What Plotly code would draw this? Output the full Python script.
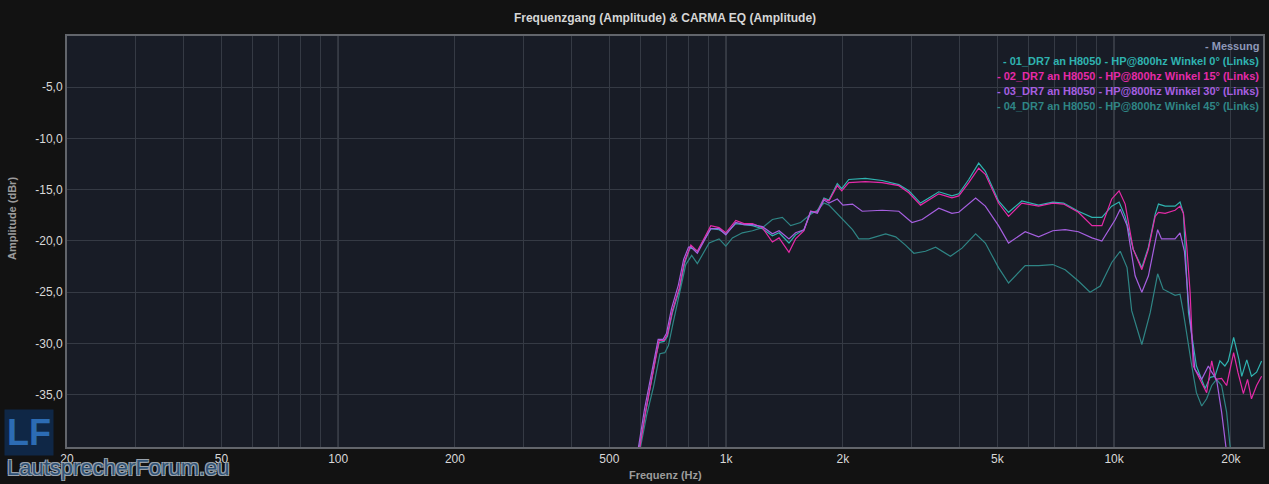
import math
import plotly.graph_objects as go

title = 'Frequenzgang (Amplitude) & CARMA EQ (Amplitude)'

names = ['Messung',
         '01_DR7 an H8050 - HP@800hz Winkel 0° (Links)',
         '02_DR7 an H8050 - HP@800hz Winkel 15° (Links)',
         '03_DR7 an H8050 - HP@800hz Winkel 30° (Links)',
         '04_DR7 an H8050 - HP@800hz Winkel 45° (Links)']
colors = ['#8e98b8', '#2fb3b0', '#e52aa8', '#a65fe0', '#2f8585']

# 0 deg
freq_0 = [588, 598, 619, 644, 660, 672, 692, 706, 727, 757, 781, 803, 811, 843, 877, 913, 959, 998, 1059, 1112,
          1169, 1240, 1316, 1369, 1452, 1510, 1587, 1652, 1718, 1787, 1841, 1934, 1986, 2071, 2285, 2524, 2787,
          2957, 3170, 3396, 3533, 3820, 3978, 4221, 4477, 4657, 5036, 5345, 5782, 6389, 6950, 7410, 8090, 8770,
          9300, 9860, 10300, 10680, 11200, 11790, 12260, 12760, 13010, 13540, 14360, 14790, 15090, 15550, 16300,
          17170, 17680, 18200, 18740, 19300, 19690, 20330, 20990, 21330, 21980, 22600, 23300, 24000]
amp_0 = [-41.5, -40.0, -36.6, -33.4, -31.1, -29.9, -29.8, -29.3, -27.0, -24.8, -22.2, -20.9, -20.6, -21.0, -19.9,
         -18.8, -18.9, -19.3, -18.3, -18.4, -18.5, -18.8, -19.5, -19.2, -20.2, -19.4, -18.9, -17.2, -17.1, -15.8,
         -16.0, -14.4, -14.9, -14.0, -13.9, -14.1, -14.5, -15.1, -16.3, -15.6, -15.2, -15.6, -15.4, -14.0, -12.4,
         -13.2, -16.1, -17.2, -16.1, -16.5, -16.2, -16.3, -17.1, -17.7, -17.7, -16.6, -16.2, -17.6, -20.8, -22.6,
         -20.6, -17.4, -16.4, -16.6, -16.6, -16.2, -17.3, -27.0, -32.2, -34.4, -33.3, -33.2, -31.7, -32.2, -31.7,
         -29.4, -31.6, -33.2, -31.6, -33.2, -32.8, -31.7]

# 15 deg
freq_15 = [590, 600, 621, 646, 662, 672, 692, 706, 727, 757, 781, 803, 811, 843, 877, 913, 959, 998, 1059, 1112,
           1169, 1240, 1316, 1369, 1452, 1510, 1587, 1652, 1718, 1787, 1841, 1934, 1986, 2071, 2285, 2524, 2787,
           2957, 3170, 3396, 3533, 3820, 3978, 4221, 4477, 4657, 5036, 5345, 5782, 6389, 6950, 7410, 8090, 8770,
           9300, 9860, 10300, 10680, 11200, 11790, 12260, 12760, 13010, 13540, 14360, 14790, 15090, 15390, 15700,
           16000, 16820, 17320, 17850, 18260, 18930, 19500, 20330, 20850, 21540, 22080, 22600, 23300, 24000]
amp_15 = [-41.5, -40.0, -36.5, -33.2, -30.9, -29.7, -29.7, -29.1, -26.8, -24.6, -22.0, -20.7, -20.4, -21.0, -19.8,
          -18.5, -18.7, -19.2, -18.0, -18.3, -18.3, -18.7, -20.1, -19.7, -21.1, -19.8, -19.0, -17.1, -17.2, -15.9,
          -16.1, -14.6, -15.1, -14.3, -14.2, -14.3, -14.6, -15.3, -16.5, -15.8, -15.4, -15.8, -15.6, -14.3, -12.9,
          -13.5, -16.3, -17.6, -16.3, -16.6, -16.3, -16.4, -17.2, -18.5, -18.5, -15.9, -15.1, -16.4, -20.8, -22.8,
          -20.8, -17.6, -17.2, -17.3, -17.0, -16.6, -17.3, -20.5, -25.0, -32.2, -33.8, -34.8, -31.7, -33.5, -33.4,
          -34.1, -30.9, -32.8, -34.9, -33.5, -35.4, -34.1, -33.2]

# 30 deg
freq_30 = [585, 595, 616, 641, 657, 668, 688, 702, 723, 753, 777, 800, 811, 843, 877, 913, 959, 998, 1059, 1112,
           1169, 1240, 1316, 1369, 1452, 1510, 1587, 1652, 1718, 1787, 1841, 1934, 2000, 2117, 2242, 2524, 2787,
           3013, 3200, 3533, 3820, 3978, 4396, 4657, 5036, 5345, 5900, 6389, 6950, 7480, 8090, 8770, 9300, 10070,
           10370, 10800, 11330, 11790, 12260, 12760, 12950, 13250, 14360, 14790, 15180, 15550, 16150, 16820, 17500,
           17850, 18370, 18930, 19300, 19700]
amp_30 = [-41.5, -40.0, -36.4, -33.0, -30.7, -29.6, -29.6, -29.0, -26.6, -24.3, -21.8, -20.6, -20.6, -21.2, -20.0,
          -18.8, -18.8, -19.4, -18.2, -18.4, -18.4, -18.6, -19.3, -19.0, -19.8, -19.2, -18.9, -17.1, -17.3, -16.0,
          -16.3, -15.9, -16.5, -16.4, -17.1, -17.0, -17.1, -18.2, -17.9, -16.8, -17.3, -17.2, -15.8, -16.6, -18.5,
          -20.2, -19.1, -19.6, -19.0, -18.9, -19.1, -19.7, -20.0, -17.9, -16.9, -18.5, -23.4, -25.0, -23.4, -20.2,
          -18.9, -19.8, -19.8, -19.2, -21.0, -26.0, -32.5, -33.5, -32.2, -32.8, -33.5, -36.7, -39.3, -42.0]

# 45 deg
freq_45 = [592, 603, 624, 650, 665, 675, 695, 710, 730, 763, 787, 815, 843, 904, 959, 998, 1038, 1101, 1169, 1240,
           1316, 1396, 1467, 1556, 1652, 1718, 1787, 1841, 1915, 2000, 2117, 2198, 2333, 2577, 2735, 2899, 3047,
           3265, 3467, 3785, 4055, 4396, 4657, 5036, 5345, 5900, 6389, 6950, 7480, 8090, 8670, 9210, 9860, 10370,
           10800, 11100, 11790, 12390, 12950, 13380, 14360, 14790, 15090, 15860, 16300, 16820, 17320, 17850, 18370,
           18930, 19500, 19890, 20200]
amp_45 = [-41.5, -40.0, -37.0, -34.2, -32.0, -31.0, -30.9, -30.2, -28.0, -24.6, -22.3, -21.4, -22.2, -20.2, -19.8,
          -20.5, -19.7, -19.2, -19.0, -18.7, -17.9, -17.7, -18.5, -18.2, -17.4, -17.0, -16.3, -16.5, -17.2, -17.9,
          -18.9, -19.8, -19.8, -19.3, -19.6, -20.4, -21.2, -21.0, -20.6, -21.5, -20.7, -19.3, -20.2, -22.6, -24.1,
          -22.4, -22.4, -22.3, -22.8, -23.9, -25.0, -24.4, -22.1, -21.0, -22.6, -26.8, -30.1, -27.0, -23.2, -24.7,
          -25.3, -25.2, -27.0, -32.2, -34.8, -36.1, -35.4, -34.1, -33.5, -34.1, -36.7, -39.9, -42.0]

grid_freqs = [20, 30, 40, 50, 60, 70, 80, 90, 100, 200, 300, 400, 500, 600, 700, 800, 900,
              1000, 2000, 3000, 4000, 5000, 6000, 7000, 8000, 9000, 10000, 20000]
label_freqs = [20, 50, 100, 200, 500, 1000, 2000, 5000, 10000, 20000]
x_labels = ['20', '50', '100', '200', '500', '1k', '2k', '5k', '10k', '20k']
decades = [100, 1000, 10000]
y_ticks = [-35, -30, -25, -20, -15, -10, -5]
y_labels = ['-35,0', '-30,0', '-25,0', '-20,0', '-15,0', '-10,0', '-5,0']

font = 'Liberation Sans, Arial, sans-serif'

fig = go.Figure()
fig.add_trace(go.Scatter(x=[], y=[], mode='lines', name=names[0], line=dict(color=colors[0])))
for i, fx, fy in [(4, freq_45, amp_45), (1, freq_0, amp_0), (2, freq_15, amp_15), (3, freq_30, amp_30)]:
    fig.add_trace(go.Scatter(x=fx, y=fy, mode='lines', name=names[i],
                             line=dict(color=colors[i], width=1.2)))

ticktext = [x_labels[label_freqs.index(f)] if f in label_freqs else '' for f in grid_freqs]

for d in decades:
    fig.add_vline(x=d, line=dict(color='#4f535b', width=1.3), layer='below')

# legend drawn as right aligned text like in the original tool
for k, (n, c) in enumerate(zip(names, colors)):
    fig.add_annotation(xref='paper', yref='paper', x=0.9985, y=0.976 - k * 0.0365,
                       xanchor='right', yanchor='middle', showarrow=False,
                       text='<b>- ' + n + '</b>', font=dict(family=font, size=11, color=c))

fig.add_annotation(xref='paper', yref='paper', x=0.5, y=-0.068, xanchor='center', yanchor='middle',
                   showarrow=False, text='<b>Frequenz (Hz)</b>',
                   font=dict(family=font, size=11, color='#9c9c9c'))
fig.add_annotation(xref='paper', yref='paper', x=-0.046, y=0.557, xanchor='center', yanchor='middle',
                   showarrow=False, textangle=-90, text='<b>Amplitude (dBr)</b>',
                   font=dict(family=font, size=11, color='#9c9c9c'))

# forum watermark
fig.add_annotation(xref='paper', yref='paper', x=-0.011, y=-0.022, xanchor='right', yanchor='bottom',
                   showarrow=False, text='<b>LF</b>', bgcolor='#0f2746', borderpad=2,
                   font=dict(family=font, size=36, color='#2c6cb4'))
fig.add_annotation(xref='paper', yref='paper', x=-0.052, y=-0.049, xanchor='left', yanchor='middle',
                   showarrow=False, text='LautsprecherForum.eu',
                   font=dict(family=font, size=22, color='#2e5277',
                             shadow='-1px -1px 0 #9aa3ad, 1px -1px 0 #9aa3ad, -1px 1px 0 #9aa3ad, 1px 1px 0 #9aa3ad'))

fig.update_layout(
    width=1269, height=484,
    margin=dict(l=67, r=4, t=36, b=37),
    paper_bgcolor='#121212', plot_bgcolor='#181c26',
    showlegend=False,
    title=dict(text='<b>' + title + '</b>', x=0.5, xref='paper', y=0.964, yref='container',
               yanchor='middle', font=dict(family=font, size=12, color='#d6d6d6')),
    xaxis=dict(type='log', range=[math.log10(20), math.log10(24200)],
               tickvals=grid_freqs, ticktext=ticktext, ticks='',
               showgrid=True, gridcolor='#353a44', gridwidth=1, zeroline=False,
               showline=True, linecolor='#62656b', linewidth=2, mirror=True,
               tickfont=dict(family=font, size=12, color='#d8d8d8')),
    yaxis=dict(range=[-40.1, 0], tickvals=y_ticks, ticktext=y_labels, ticks='',
               showgrid=True, gridcolor='#353a44', gridwidth=1, zeroline=False,
               showline=True, linecolor='#62656b', linewidth=2, mirror=True,
               tickfont=dict(family=font, size=12, color='#d8d8d8')),
)

fig.write_html("out.html", config={'displayModeBar': False},
               post_script="document.body.style.margin='0';document.body.style.background='#121212';")
